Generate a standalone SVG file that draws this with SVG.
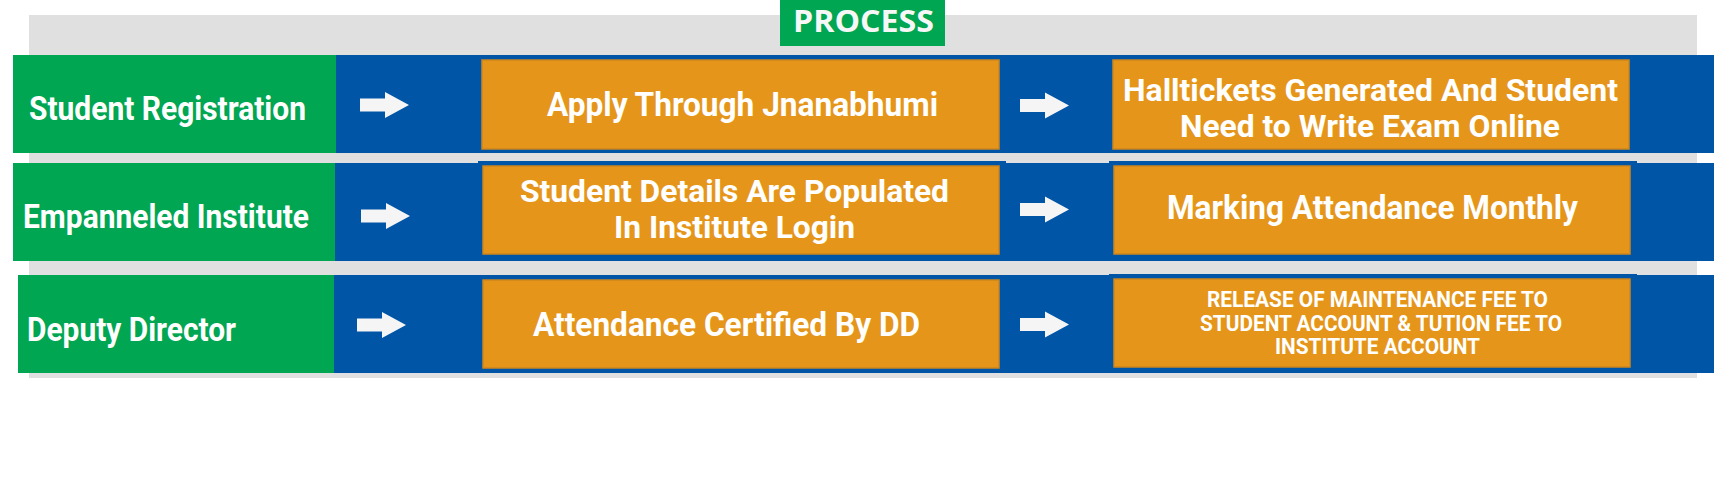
<svg xmlns="http://www.w3.org/2000/svg" xmlns:xlink="http://www.w3.org/1999/xlink" width="1727" height="500" viewBox="0 0 1727 500">
<style>
.bg{fill:#E0E0E0}
.g{fill:#00A651}
.b{fill:#0055A6}
.o{fill:#E5961A;stroke:#CD861C;stroke-width:1.5}
.t{font-family:Roboto,"Liberation Sans",sans-serif;font-weight:700;fill:#FFFFFF}
.l{font-size:33px}
.m{font-size:34px}
.m2{font-size:32px}
.s{font-size:22px}
.p{font-family:"Open Sans","Liberation Sans",sans-serif;font-weight:700;font-size:30px;fill:#F7F7F7}
.a{fill:#F5F5F5}
</style>
<defs>
<polygon id="arr" points="0,-6.5 25,-6.5 25,-13 49,0 25,13 25,6.5 0,6.5"/>
</defs>
<rect class="bg" x="29" y="15" width="1668" height="363"/>
<g id="process">
<rect class="g" x="780" y="0" width="165" height="46"/>
<text class="p" x="793" y="32" textLength="141" lengthAdjust="spacingAndGlyphs">PROCESS</text>
</g>
<g id="row1">
<rect class="b" x="336" y="55" width="1378" height="98"/>
<g id="student-registration">
<rect class="g" x="13" y="55" width="323" height="98"/>
<text class="t l" x="29" y="120" textLength="277" lengthAdjust="spacingAndGlyphs">Student Registration</text>
</g>
<g id="apply">
<rect class="o" x="482" y="60" width="517" height="89"/>
<text class="t m" x="547" y="116" textLength="391" lengthAdjust="spacingAndGlyphs">Apply Through Jnanabhumi</text>
</g>
<g id="halltickets">
<rect class="o" x="1113" y="60" width="516" height="89"/>
<text class="t m2" x="1123" y="101" textLength="495" lengthAdjust="spacingAndGlyphs">Halltickets Generated And Student</text>
<text class="t m2" x="1180" y="137" textLength="380" lengthAdjust="spacingAndGlyphs">Need to Write Exam Online</text>
</g>
</g>
<g id="row2">
<rect class="b" x="335" y="163" width="1379" height="98"/>
<rect class="b" x="478" y="161" width="528" height="3"/>
<rect class="b" x="1109" y="161" width="528" height="3"/>
<g id="empanneled-institute">
<rect class="g" x="13" y="163" width="322" height="98"/>
<text class="t l" x="23" y="228" textLength="286" lengthAdjust="spacingAndGlyphs">Empanneled Institute</text>
</g>
<g id="student-details">
<rect class="o" x="483" y="166" width="516" height="88"/>
<text class="t m2" x="520" y="202" textLength="429" lengthAdjust="spacingAndGlyphs">Student Details Are Populated</text>
<text class="t m2" x="614" y="238" textLength="241" lengthAdjust="spacingAndGlyphs">In Institute Login</text>
</g>
<g id="marking-attendance">
<rect class="o" x="1114" y="166" width="516" height="88"/>
<text class="t m" x="1167" y="219" textLength="411" lengthAdjust="spacingAndGlyphs">Marking Attendance Monthly</text>
</g>
</g>
<g id="row3">
<rect class="b" x="334" y="275" width="1380" height="98"/>
<rect class="b" x="1109" y="274" width="528" height="2"/>
<g id="deputy-director">
<rect class="g" x="18" y="275" width="316" height="98"/>
<text class="t l" x="27" y="341" textLength="209" lengthAdjust="spacingAndGlyphs">Deputy Director</text>
</g>
<g id="attendance-certified">
<rect class="o" x="483" y="280" width="516" height="88"/>
<text class="t m" x="533" y="336" textLength="387" lengthAdjust="spacingAndGlyphs">Attendance Certified By DD</text>
</g>
<g id="release-fee">
<rect class="o" x="1114" y="279" width="516" height="88"/>
<text class="t s" x="1207" y="307" textLength="341" lengthAdjust="spacingAndGlyphs">RELEASE OF MAINTENANCE FEE TO</text>
<text class="t s" x="1200" y="331" textLength="362" lengthAdjust="spacingAndGlyphs">STUDENT ACCOUNT &amp; TUTION FEE TO</text>
<text class="t s" x="1275" y="354" textLength="205" lengthAdjust="spacingAndGlyphs">INSTITUTE ACCOUNT</text>
</g>
</g>
<g id="connectors">
<use xlink:href="#arr" href="#arr" class="a" x="360" y="105"/>
<use xlink:href="#arr" href="#arr" class="a" x="1020" y="105.5"/>
<use xlink:href="#arr" href="#arr" class="a" x="361" y="216"/>
<use xlink:href="#arr" href="#arr" class="a" x="1020" y="209.5"/>
<use xlink:href="#arr" href="#arr" class="a" x="357" y="325"/>
<use xlink:href="#arr" href="#arr" class="a" x="1020" y="324.5"/>
</g>
</svg>
